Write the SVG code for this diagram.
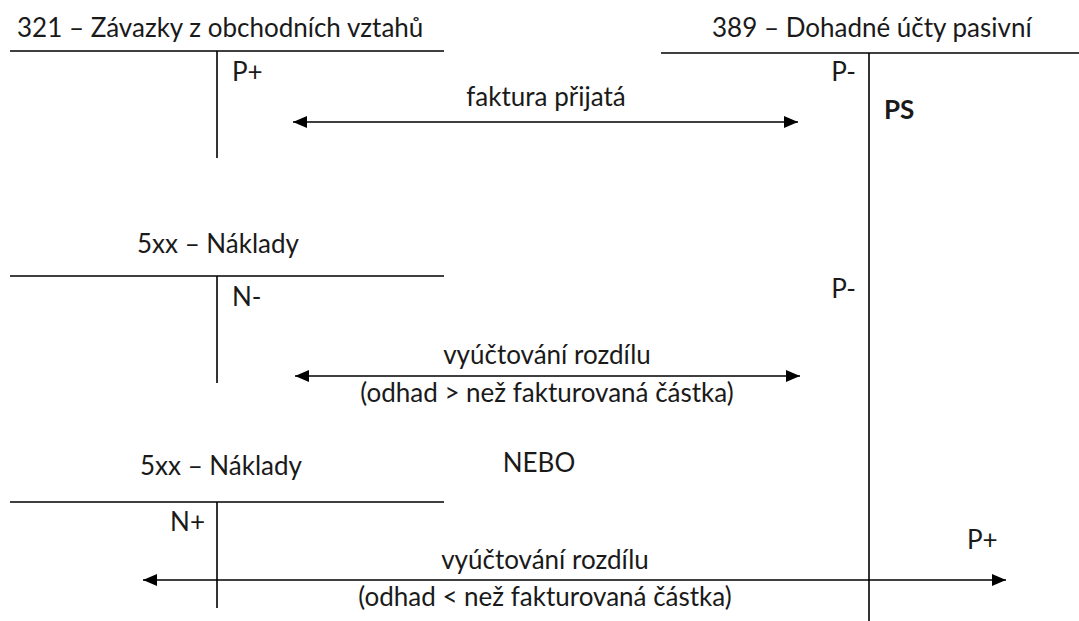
<svg xmlns="http://www.w3.org/2000/svg" width="1079" height="621" viewBox="0 0 1079 621">
<style>
text{font-family:Lato,"Open Sans",sans-serif;font-size:26px;fill:#1a1a1a}
.m{text-anchor:middle}
.e{text-anchor:end}
.b{font-weight:bold}
.ln{stroke:#000;stroke-width:1.6;fill:none}
.ar{stroke:#000;stroke-width:1.6;fill:none;marker-end:url(#ah);marker-start:url(#ah)}
</style>
<defs>
<marker id="ah" viewBox="0 0 14 12" refX="14" refY="6" markerWidth="14" markerHeight="12" markerUnits="userSpaceOnUse" orient="auto-start-reverse">
<path d="M0,0 L14,6 L0,12 Z" fill="#000"/>
</marker>
</defs>
<rect width="1079" height="621" fill="#fff"/>
<g id="acc321">
<text x="17" y="37">321 – Závazky z obchodních vztahů</text>
<line class="ln" x1="10" y1="51" x2="444" y2="51"/>
<line class="ln" x1="217" y1="51" x2="217" y2="158"/>
<text x="232" y="81">P+</text>
</g>
<g id="acc389">
<text x="712" y="37">389 – Dohadné účty pasivní</text>
<line class="ln" x1="661" y1="53" x2="1079" y2="53"/>
<line class="ln" x1="869" y1="53" x2="869" y2="621"/>
<text class="e" x="856" y="81">P-</text>
<text class="b" x="884" y="119">PS</text>
<text class="e" x="856" y="298">P-</text>
<text x="967" y="549">P+</text>
</g>
<g id="acc5xx-a">
<text x="137" y="253">5xx – Náklady</text>
<line class="ln" x1="10" y1="276" x2="444" y2="276"/>
<line class="ln" x1="217" y1="276" x2="217" y2="383"/>
<text x="232" y="306">N-</text>
</g>
<g id="acc5xx-b">
<text x="140" y="475">5xx – Náklady</text>
<line class="ln" x1="10" y1="502" x2="444" y2="502"/>
<line class="ln" x1="217" y1="502" x2="217" y2="608"/>
<text class="e" x="205" y="531">N+</text>
</g>
<g id="connectors">
<line class="ar" x1="293" y1="122" x2="798" y2="122"/>
<line class="ar" x1="295" y1="376" x2="800" y2="376"/>
<line class="ar" x1="143" y1="580" x2="1006" y2="580"/>
</g>
<g id="labels">
<text class="m" x="546" y="106">faktura přijatá</text>
<text class="m" x="547" y="364">vyúčtování rozdílu</text>
<text class="m" x="547" y="402">(odhad &gt; než fakturovaná částka)</text>
<text class="m" x="539" y="472">NEBO</text>
<text class="m" x="545" y="569">vyúčtování rozdílu</text>
<text class="m" x="545" y="606">(odhad &lt; než fakturovaná částka)</text>
</g>
</svg>
